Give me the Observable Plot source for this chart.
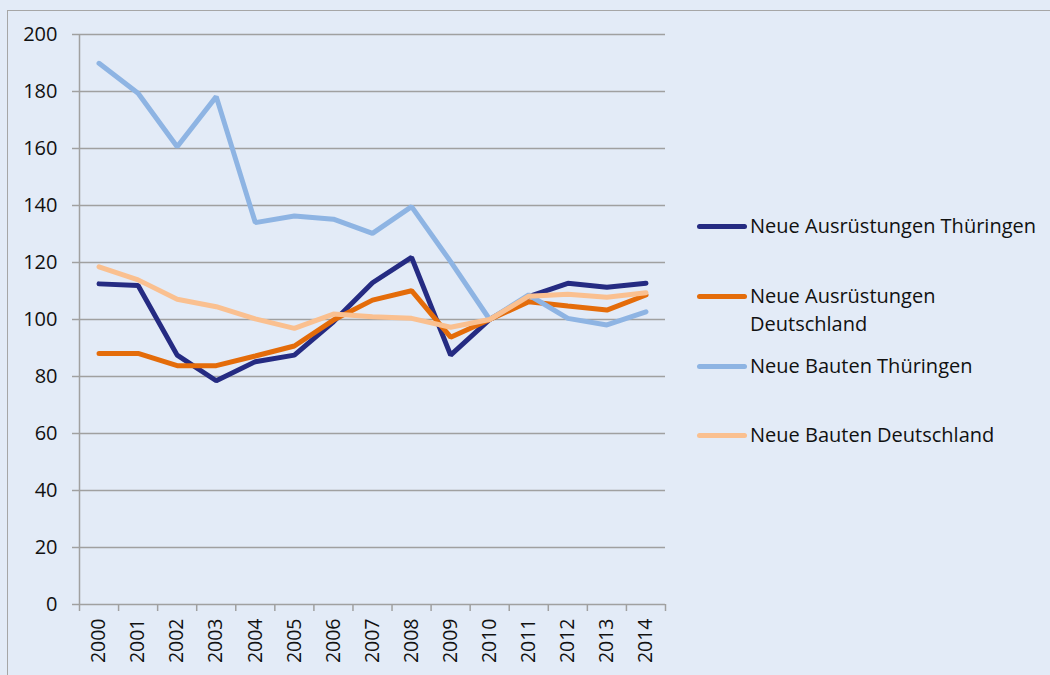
<!DOCTYPE html>
<html>
<head>
<meta charset="utf-8">
<script src="https://cdn.jsdelivr.net/npm/d3@7"></script>
<script src="https://cdn.jsdelivr.net/npm/@observablehq/plot@0.6"></script>
<style>
  html, body { margin: 0; padding: 0; background: #E3EBF7; width: 1050px; height: 675px; overflow: hidden; }
  #wrap { position: relative; width: 1050px; height: 675px; }
  #border { position: absolute; left: 7px; top: 10px; width: 1100px; height: 700px; border: 1.5px solid #A6A6A6; box-sizing: border-box; }
  #chart { position: absolute; left: 0; top: 0; }
  #legend { position: absolute; left: 697px; top: 0; font-family: "Open Sans", sans-serif; font-size: 20px; color: #111; }
  .item { position: absolute; left: 0; display: flex; align-items: flex-start; }
  .sw { width: 50px; height: 5px; border-radius: 2.5px; margin-top: 12px; flex: none; }
  .lbl { width: 295px; line-height: 28px; padding-left: 3px; }
</style>
</head>
<body>
<div id="wrap">
  <div id="border"></div>
  <div id="chart"></div>
  <div id="legend"></div>
</div>
<script>
const years = [2000, 2001, 2002, 2003, 2004, 2005, 2006, 2007, 2008, 2009, 2010, 2011, 2012, 2013, 2014];
const seriesNames = ["Neue Ausrüstungen Thüringen", "Neue Ausrüstungen Deutschland", "Neue Bauten Thüringen", "Neue Bauten Deutschland"];
const seriesColors = ["#252B82", "#E46C0A", "#8EB4E3", "#FAC090"];
const ausruestungenThueringen = [112.5, 111.9, 87.5, 78.5, 85.2, 87.5, 99.2, 112.9, 121.8, 87.5, 100, 108, 112.7, 111.3, 112.7];
const ausruestungenDeutschland = [88.1, 88.1, 83.8, 83.8, 87.2, 90.7, 99.8, 106.8, 110.1, 93.8, 100, 106.2, 104.7, 103.3, 108.6];
const bautenThueringen = [189.9, 179.4, 160.6, 178.2, 134, 136.3, 135.2, 130.2, 139.6, 120.3, 100, 108.6, 100.4, 98.1, 102.7];
const bautenDeutschland = [118.5, 113.9, 107.1, 104.5, 100.2, 96.9, 101.9, 101, 100.4, 97.3, 100, 108.2, 108.9, 107.8, 109.4];
const yTicks = [0, 20, 40, 60, 80, 100, 120, 140, 160, 180, 200];

const seriesValues = [ausruestungenThueringen, ausruestungenDeutschland, bautenThueringen, bautenDeutschland];
const rows = seriesNames.flatMap((name, i) => years.map((year, j) => ({series: name, year, value: seriesValues[i][j]})));
const xDomain = [years[0] - 0.5, years[years.length - 1] + 0.5];
const bandEdges = d3.range(xDomain[0], xDomain[1] + 0.01, 1);

const chart = Plot.plot({
  width: 1050,
  height: 675,
  marginLeft: 79,
  marginRight: 385,
  marginTop: 34,
  marginBottom: 71,
  style: { background: "transparent", fontFamily: "'Open Sans', sans-serif", fontSize: "20px", color: "#111" },
  x: { domain: xDomain },
  y: { domain: [0, 200] },
  color: { domain: seriesNames, range: seriesColors },
  marks: [
    Plot.gridY(yTicks, { stroke: "#A0A0A0", strokeOpacity: 1, strokeWidth: 1.5 }),
    Plot.ruleX([xDomain[0]], { stroke: "#A0A0A0", strokeWidth: 1.5 }),
    Plot.axisY({ ticks: yTicks, tickSize: 7, tickPadding: 15, stroke: "#A0A0A0", strokeWidth: 1.5, label: null, fill: "#111", fontSize: 20 }),
    Plot.axisX({ ticks: bandEdges, tickFormat: () => "", tickSize: 7, stroke: "#A0A0A0", strokeWidth: 1.5, label: null }),
    Plot.axisX({ ticks: years, tickFormat: d => String(d), tickSize: 0, tickPadding: 14, tickRotate: -90, label: null, fill: "#111", fontSize: 19.5, ariaLabel: "year labels" }),
    Plot.line(rows, { x: "year", y: "value", z: "series", stroke: "series", strokeWidth: 5, strokeLinejoin: "miter", strokeLinecap: "round" })
  ]
});
document.getElementById("chart").appendChild(chart);
// enforce tick label typography directly on the rendered text nodes
d3.select(chart).selectAll("text")
  .style("font-family", "'Open Sans', sans-serif")
  .style("font-size", function () {
    const t = this.getAttribute("transform") || "";
    const parentT = (this.parentNode.getAttribute("transform") || "");
    return (t.includes("rotate") || parentT.includes("rotate")) ? "19.5px" : "20px";
  });

const legendTops = [212, 282, 352, 421];
const legend = d3.select("#legend");
seriesNames.forEach((name, i) => {
  const item = legend.append("div").attr("class", "item").style("top", legendTops[i] + "px");
  item.append("div").attr("class", "sw").style("background", seriesColors[i]);
  item.append("div").attr("class", "lbl").text(name);
});
</script>
</body>
</html>
